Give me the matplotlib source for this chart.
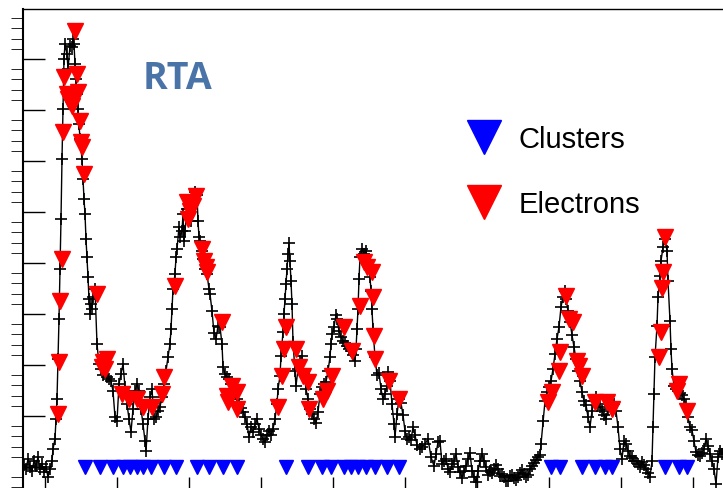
import matplotlib
matplotlib.use("Agg")
import matplotlib.pyplot as plt
from matplotlib.lines import Line2D
from matplotlib.ticker import MultipleLocator

# waveform samples (time in ns, amplitude in ADC counts)
time_ns = [
    2, 6, 10, 14, 18, 22, 26, 30, 34, 38,
    42, 46, 50, 54, 58, 60, 64, 66, 68, 70,
    72, 74, 76, 78, 80, 82, 84, 88, 90, 94,
    98, 100, 102, 104, 106, 108, 110, 112, 114, 118,
    120, 122, 124, 126, 128, 130, 132, 134, 136, 138,
    140, 144, 148, 152, 156, 160, 164, 168, 172, 176,
    180, 184, 188, 192, 196, 200, 204, 208, 212, 216,
    220, 224, 228, 232, 236, 240, 244, 246, 250, 254,
    258, 262, 266, 270, 274, 278, 282, 286, 290, 294,
    296, 298, 300, 304, 306, 308, 312, 314, 318, 320,
    322, 324, 328, 332, 336, 340, 344, 348, 350, 352,
    354, 358, 360, 364, 368, 372, 374, 378, 382, 386,
    390, 394, 398, 400, 404, 408, 412, 416, 420, 424,
    428, 432, 436, 440, 444, 448, 452, 456, 460, 464,
    468, 472, 476, 480, 484, 488, 492, 496, 500, 504,
    508, 510, 514, 516, 520, 522, 524, 526, 528, 530,
    532, 534, 536, 538, 540, 544, 546, 550, 554, 558,
    562, 566, 570, 574, 578, 582, 586, 590, 594, 598,
    602, 606, 610, 614, 616, 618, 622, 626, 628, 632,
    636, 640, 644, 648, 652, 656, 660, 664, 666, 668,
    670, 672, 674, 678, 682, 686, 690, 694, 696, 698,
    700, 704, 708, 712, 716, 720, 724, 728, 730, 734,
    738, 742, 744, 748, 752, 756, 760, 764, 768, 772,
    776, 780, 784, 788, 794, 798, 804, 810, 816, 822,
    826, 830, 834, 838, 842, 846, 850, 854, 858, 862,
    866, 870, 874, 878, 882, 886, 890, 894, 898, 902,
    906, 910, 914, 918, 922, 926, 930, 934, 938, 942,
    946, 950, 954, 958, 962, 966, 970, 974, 978, 982,
    986, 990, 994, 998, 1002, 1006, 1010, 1014, 1018, 1022,
    1026, 1030, 1034, 1036, 1040, 1044, 1048, 1052, 1056, 1060,
    1064, 1068, 1072, 1076, 1080, 1084, 1086, 1090, 1094, 1098,
    1102, 1106, 1110, 1114, 1118, 1122, 1126, 1130, 1134, 1138,
    1142, 1146, 1150, 1154, 1158, 1162, 1166, 1170, 1174, 1178,
    1182, 1186, 1190, 1194, 1198, 1202, 1206, 1210, 1214, 1218,
    1222, 1226, 1230, 1234, 1238, 1242, 1246, 1250, 1254, 1258,
    1260, 1262, 1264, 1268, 1270, 1274, 1276, 1280, 1284, 1288,
    1290, 1294, 1296, 1298, 1302, 1306, 1310, 1314, 1318, 1322,
    1326, 1330, 1334, 1338, 1342, 1346, 1350, 1354, 1358, 1362,
    1366, 1370, 1374, 1378, 1382, 1386, 1390, 1394, 1398, 1402,
]
signal = [
    4, -4, 16, 0, -8, 12, 2, 20, -4, 6,
    -10, 0, -20, -4, 12, 36, 56, 96, 136, 216,
    296, 396, 496, 616, 716, 816, 846, 826, 796, 842,
    840, 856, 846, 806, 776, 746, 716, 686, 656, 616,
    576, 536, 506, 456, 420, 380, 336, 306, 326, 316,
    340, 356, 246, 206, 196, 184, 200, 180, 176, 172,
    152, 100, 92, 166, 186, 206, 160, 126, 96, 70,
    116, 152, 166, 152, 116, 86, 52, 32, 96, 140,
    156, 96, 100, 112, 120, 140, 166, 192, 220, 246,
    276, 316, 356, 386, 420, 436, 480, 460, 472, 506,
    452, 472, 516, 526, 492, 530, 550, 544, 492, 460,
    452, 432, 416, 396, 386, 356, 346, 312, 268, 256,
    282, 280, 246, 200, 186, 180, 176, 166, 156, 146,
    136, 126, 118, 110, 100, 86, 60, 80, 70, 86,
    96, 76, 64, 56, 50, 64, 72, 64, 76, 96,
    126, 156, 182, 222, 270, 306, 336, 366, 396, 426,
    448, 412, 372, 326, 250, 192, 162, 196, 212, 222,
    186, 156, 136, 116, 106, 96, 88, 110, 146, 160,
    166, 170, 192, 220, 246, 266, 280, 304, 296, 272,
    260, 252, 248, 242, 236, 232, 224, 212, 236, 276,
    316, 376, 420, 436, 426, 432, 412, 380, 352, 316,
    276, 220, 184, 188, 156, 136, 146, 162, 190, 172,
    126, 86, 60, 106, 136, 128, 104, 72, 56, 60,
    54, 80, 64, 44, 36, 40, 46, 56, 20, 2,
    26, 50, 52, 6, 12, 16, -4, -10, 6, 12,
    26, 0, -10, -22, -8, 2, 16, 28, -8, -20,
    -30, -8, 12, 26, 12, 0, -16, -8, -12, -4,
    4, -4, -18, -14, -20, -28, -28, -18, -16, -22,
    -26, -20, -12, -6, -14, -20, -16, -4, 2, 8,
    14, 20, 24, 46, 92, 132, 150, 160, 172, 196,
    226, 256, 280, 320, 340, 352, 336, 312, 290, 264,
    240, 216, 192, 172, 150, 132, 124, 100, 80, 112,
    132, 140, 126, 120, 112, 104, 96, 116, 124, 130,
    126, 112, 80, 36, 16, 52, 46, 32, 22, 18,
    12, 12, 6, 0, 10, 4, -4, -12, -20, 12,
    80, 146, 220, 282, 340, 382, 412, 440, 456, 432,
    372, 292, 236, 196, 162, 156, 152, 148, 144, 136,
    124, 100, 80, 74, 52, 30, 24, 22, 28, 36,
    56, 42, 26, 12, -4, -34, 20, 32, 26, 36,
]

# reconstructed electrons
electron_time = [
    104, 82, 108, 88, 110, 94, 90, 98, 80, 114, 116, 118, 122, 78, 74, 72, 70,
    148, 160, 168, 158, 164, 198, 212, 228, 240, 258, 278, 282, 304,
    346, 328, 340, 334, 330, 358, 362, 366, 368, 398, 408, 418, 428, 428, 410,
    526, 522, 518, 510, 546, 552, 560, 570, 572, 600, 608, 618,
    642, 658, 674, 682, 688, 698, 700, 702, 704, 732, 752,
    1086, 1092, 1100, 1074, 1072, 1058, 1050, 1108, 1112, 1118, 1144, 1168, 1178,
    1284, 1280, 1278, 1276, 1272, 1312, 1308, 1328,
]
electron_amp = [
    872, 780, 786, 746, 750, 730, 736, 722, 670, 692, 650, 640, 586, 416, 332, 210, 106,
    346, 210, 216, 200, 196, 146, 136, 136, 120, 120, 146, 180, 362,
    542, 530, 522, 512, 496, 436, 412, 400, 390, 290, 142, 162, 150, 116, 130,
    280, 236, 182, 120, 236, 200, 182, 170, 116, 136, 152, 182,
    280, 232, 322, 410, 400, 390, 340, 262, 216, 172, 136,
    342, 296, 290, 230, 192, 150, 130, 212, 202, 182, 130, 130, 116,
    460, 390, 358, 270, 220, 166, 152, 112,
]

# reconstructed clusters (drawn on the baseline)
cluster_time = [
    124, 154, 180, 200, 214, 228, 240, 256, 282, 306,
    348, 372, 400, 428, 526, 570, 598, 616, 642, 656,
    670, 686, 704, 728, 752, 1056, 1074, 1118, 1144, 1164,
    1178, 1284, 1312, 1328,
]
cluster_amp = [
    0, 0, 0, 0, 0, 0, 0, 0, 0, 0,
    0, 0, 0, 0, 0, 0, 0, 0, 0, 0,
    0, 0, 0, 0, 0, 0, 0, 0, 0, 0,
    0, 0, 0, 0,
]

fig = plt.figure(figsize=(7.23, 4.89), dpi=100)
# axes run past the right and bottom edges like the cropped original
ax = fig.add_axes([23 / 723, -4 / 489, 742 / 723, 483.5 / 489])

ax.plot(time_ns, signal, color='black', lw=1.0, marker='+', ms=8, mew=1.2, zorder=2)
ax.plot(cluster_time, cluster_amp, ls='none', marker='v', ms=10.5,
        color='#0000ff', mec='#0000ff', zorder=3)
ax.plot(electron_time, electron_amp, ls='none', marker='v', ms=11,
        color='#ff0000', mec='#ff0000', zorder=4)

ax.set_xlim(0, 1484)
ax.set_ylim(-50, 917)

ax.xaxis.set_major_locator(MultipleLocator(144, offset=44))
ax.xaxis.set_minor_locator(MultipleLocator(28.8, offset=15.2))
ax.yaxis.set_major_locator(MultipleLocator(102))
ax.yaxis.set_minor_locator(MultipleLocator(20.4))
ax.tick_params(direction='in', labelleft=False, labelbottom=False, width=1)
ax.tick_params(axis='y', which='major', length=16)
ax.tick_params(axis='y', which='minor', length=8.6)
ax.tick_params(axis='x', which='major', length=11)
ax.tick_params(axis='x', which='minor', length=6)
ax.spines['left'].set_linewidth(1.5)
ax.spines['top'].set_linewidth(1.0)

fig.text(177.5 / 723, 1 - 89 / 489, 'RTA', color='#4a74a8', fontsize=27,
         fontweight='bold', family='Open Sans', ha='center', va='baseline')

handles = [
    Line2D([], [], ls='none', marker='v', ms=25, color='#0000ff', mec='#0000ff'),
    Line2D([], [], ls='none', marker='v', ms=25, color='#ff0000', mec='#ff0000'),
]
ax.legend(handles, ['Clusters', 'Electrons'], frameon=False,
          prop={'family': 'Liberation Sans', 'size': 21},
          loc='upper left', bbox_to_anchor=(466 / 723, 1 - 126 / 489),
          bbox_transform=fig.transFigure, borderpad=0, borderaxespad=0,
          handlelength=1.2, handletextpad=0.6, labelspacing=1.27)

fig.savefig('out.png', dpi=100)
